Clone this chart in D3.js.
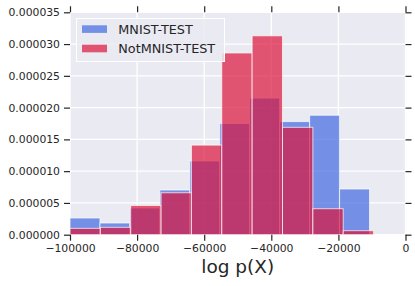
<!DOCTYPE html>
<html lang="en">
<head>
    <meta charset="UTF-8">
    <title>log p(X) histogram</title>
    <script src="https://d3js.org/d3.v7.min.js"></script>
    <style>
        body {margin: 0;}
        text {font-family: "DejaVu Sans", sans-serif; fill: #262626;}
    </style>
</head>
<body>
<script>
    const width = 415;
    const height = 286;

    // histogram bin edges (log p(X)) and densities
    const mnistEdges = [-100000, -91071, -82143, -73214, -64286, -55357, -46429, -37500, -28571, -19643, -10714];
    const mnistDensity = [2.63e-6, 1.84e-6, 4.2e-6, 7.03e-6, 11.6e-6, 17.5e-6, 21.5e-6, 17.8e-6, 18.8e-6, 7.19e-6];

    const notmnistEdges = [-100000, -90952, -81905, -72857, -63810, -54762, -45714, -36667, -27619, -18571, -9524];
    const notmnistDensity = [1.0e-6, 1.16e-6, 4.6e-6, 6.6e-6, 14.1e-6, 28.6e-6, 31.3e-6, 16.9e-6, 4.09e-6, 0.63e-6];

    const xTicks = [-100000, -80000, -60000, -40000, -20000, 0];
    const yTicks = [0, 0.000005, 0.00001, 0.000015, 0.00002, 0.000025, 0.00003, 0.000035];

    const seriesNames = ["MNIST-TEST", "NotMNIST-TEST"];
    const colors = ["royalblue", "crimson"];

    const svg = d3.select("body").append("svg")
            .attr("width", width).attr("height", height);

    const x = d3.scaleLinear().domain([-100000, 0]).range([70, 405.5]);
    const y = d3.scaleLinear().domain([0, 0.000035]).range([234.7, 12.3]);

    // background
    svg.append("rect")
            .attr("x", x(-100000)).attr("y", y(0.000035))
            .attr("width", x(0) - x(-100000)).attr("height", y(0) - y(0.000035))
            .style("fill", "#EAEAF2");

    // grid
    svg.append("g").selectAll("line.vg").data(xTicks).enter().append("line")
            .attr("x1", d => x(d)).attr("x2", d => x(d))
            .attr("y1", y(0)).attr("y2", y(0.000035))
            .style("stroke", "white").style("stroke-width", 1.3);
    svg.append("g").selectAll("line.hg").data(yTicks).enter().append("line")
            .attr("y1", d => y(d)).attr("y2", d => y(d))
            .attr("x1", x(-100000)).attr("x2", x(0))
            .style("stroke", "white").style("stroke-width", 1.3);

    function drawHist(edges, dens, color) {
        const bins = dens.map((d, i) => ({x0: edges[i], x1: edges[i + 1], v: d}));
        svg.append("g").selectAll("rect").data(bins).enter().append("rect")
                .attr("x", d => x(d.x0))
                .attr("width", d => x(d.x1) - x(d.x0))
                .attr("y", d => y(d.v))
                .attr("height", d => y(0) - y(d.v))
                .style("fill", color).style("fill-opacity", 0.7)
                .style("stroke", "white").style("stroke-opacity", 0.7)
                .style("stroke-width", 1);
    }
    drawHist(mnistEdges, mnistDensity, colors[0]);
    drawHist(notmnistEdges, notmnistDensity, colors[1]);

    // axes (ticks on all four sides, no spines)
    const fmtX = d => d === 0 ? "0" : "\u2212" + Math.abs(d);
    const fmtY = d => d3.format(".6f")(d);

    const axBottom = svg.append("g").attr("transform", `translate(0,${y(0)})`)
            .call(d3.axisBottom(x).tickValues(xTicks).tickFormat(fmtX).tickSize(6).tickPadding(4));
    const axTop = svg.append("g").attr("transform", `translate(0,${y(0.000035)})`)
            .call(d3.axisTop(x).tickValues(xTicks).tickFormat("").tickSize(6));
    const axLeft = svg.append("g").attr("transform", `translate(${x(-100000)},0)`)
            .call(d3.axisLeft(y).tickValues(yTicks).tickFormat(fmtY).tickSize(6).tickPadding(4));
    const axRight = svg.append("g").attr("transform", `translate(${x(0)},0)`)
            .call(d3.axisRight(y).tickValues(yTicks).tickFormat("").tickSize(6));

    [axBottom, axTop, axLeft, axRight].forEach(g => {
        g.select(".domain").remove();
        g.selectAll(".tick line").style("stroke", "#262626").style("stroke-width", 1.2);
        g.selectAll(".tick text").style("font-size", "10.8px")
                .style("font-family", "'DejaVu Sans', sans-serif").style("fill", "#262626");
    });

    // x label
    svg.append("text")
            .attr("x", (x(-100000) + x(0)) / 2).attr("y", 273)
            .attr("text-anchor", "middle")
            .style("font-size", "18.5px")
            .text("log p(X)");

    // legend
    const legend = svg.append("g");
    legend.append("rect")
            .attr("x", 76.5).attr("y", 18.5).attr("width", 148).attr("height", 43)
            .style("fill", "#EAEAF2").style("fill-opacity", 0.85)
            .style("stroke", "white").style("stroke-width", 1);
    seriesNames.forEach((name, i) => {
        legend.append("rect")
                .attr("x", 82).attr("y", 25.3 + i * 19.4).attr("width", 25).attr("height", 7.6)
                .style("fill", colors[i]).style("fill-opacity", 0.7);
        legend.append("text")
                .attr("x", 118.3).attr("y", 34 + i * 18.8)
                .style("font-size", "12.8px")
                .text(name);
    });
</script>
</body>
</html>
